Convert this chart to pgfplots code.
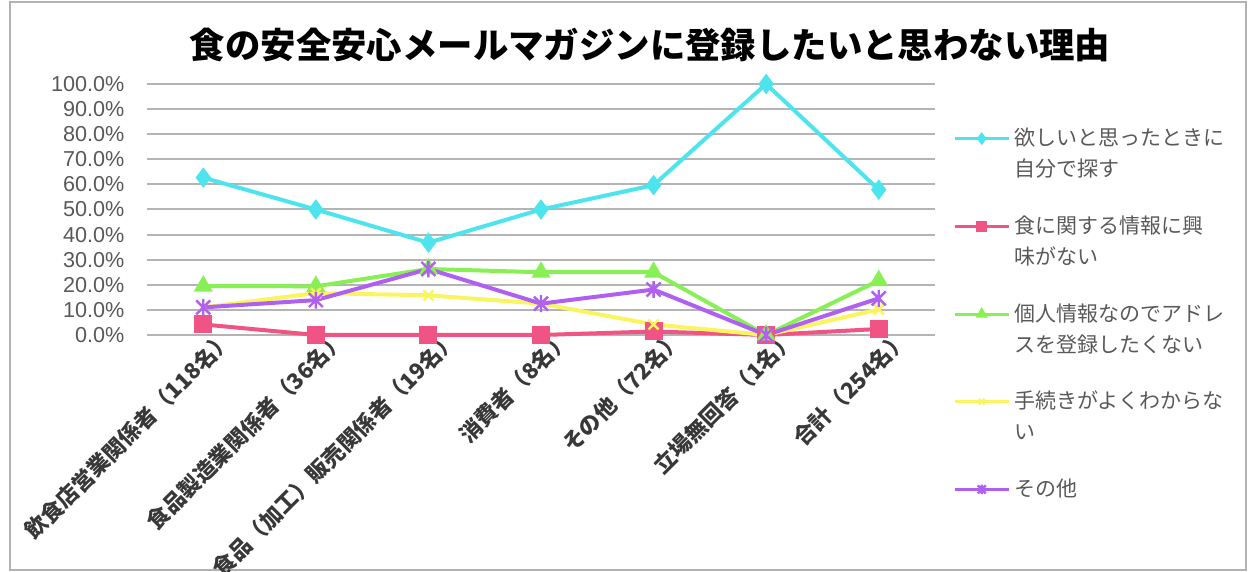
\documentclass[border=0pt]{standalone}
\usepackage{fontspec}
\setmainfont{Noto Sans CJK JP}
\newfontfamily\tickfont{Liberation Sans}
\usepackage{pgfplots}
\pgfplotsset{compat=1.18}
\definecolor{ccyan}{RGB}{78,228,238}
\definecolor{cpink}{RGB}{240,84,132}
\definecolor{cgreen}{RGB}{136,240,84}
\definecolor{cyellow}{RGB}{250,244,96}
\definecolor{cpurple}{RGB}{176,96,240}
\definecolor{txtgray}{RGB}{89,89,89}
\definecolor{gridgray}{RGB}{180,180,180}
\pgfdeclareplotmark{xstar}{%
 \pgfpathmoveto{\pgfqpoint{-\pgfplotmarksize}{-\pgfplotmarksize}}%
 \pgfpathlineto{\pgfqpoint{\pgfplotmarksize}{\pgfplotmarksize}}%
 \pgfpathmoveto{\pgfqpoint{-\pgfplotmarksize}{\pgfplotmarksize}}%
 \pgfpathlineto{\pgfqpoint{\pgfplotmarksize}{-\pgfplotmarksize}}%
 \pgfpathmoveto{\pgfqpoint{0pt}{-1.2\pgfplotmarksize}}%
 \pgfpathlineto{\pgfqpoint{0pt}{1.2\pgfplotmarksize}}%
 \pgfusepathqstroke}
\newcommand{\lent}[1]{\begin{tabular}[t]{@{}l@{}}#1\end{tabular}}
\begin{document}
\begin{tikzpicture}[x=1pt,y=1pt]
\path[use as bounding box] (0,0) rectangle (626,286);
\draw[gray!60, line width=0.6pt] (5,1) rectangle (623,285);
\node[font=\bfseries\fontsize{17.7}{20}\selectfont] at (325,263.5) {食の安全安心メールマガジンに登録したいと思わない理由};
\begin{axis}[
  at={(73.5pt,118.5pt)}, anchor=south west,
  width=394pt, height=125.5pt, scale only axis,
  xmin=-0.5, xmax=6.5, ymin=0, ymax=100,
  axis line style={draw=none},
  major tick length=0pt,
  ymajorgrids,
  major grid style={gridgray, line width=1pt},
  ytick={0,10,...,100},
  /pgf/number format/assume math mode=true,
  yticklabel={\pgfmathprintnumber[fixed,fixed zerofill,precision=1]{\tick}\%},
  yticklabel style={font=\tickfont\fontsize{10.8}{12}\selectfont, text=txtgray, xshift=-7pt},
  xtick={0,...,6},
  xticklabels={飲食店営業関係者（118名）,食品製造業関係者（36名）,食品（加工）販売関係者（19名）,消費者（8名）,その他（72名）,立場無回答（1名）,合計（254名）},
  xticklabel style={rotate=45, anchor=east, font=\bfseries\fontsize{11}{12}\selectfont, text=black!78, xshift=13pt, yshift=-9pt},
  clip=false,
  line width=2pt,
  mark size=3.5pt,
  legend style={at={(1.013,0.88)}, anchor=north west, draw=none, fill=none,
    font=\fontsize{10.5}{15.5}\selectfont, text=txtgray, row sep=27.5pt,
    cells={anchor=base west}},
  legend image code/.code={\draw[mark repeat=2,mark phase=2,mark size=2pt,line width=1.5pt,#1] plot coordinates {(0pt,3.6pt) (13.5pt,3.6pt) (27pt,3.6pt)};},
]
\addplot[ccyan, mark=diamond*, mark options={solid}] coordinates {(0,62.7) (1,50.0) (2,36.8) (3,50.0) (4,59.7) (5,100) (6,57.9)};
\addlegendentry{\lent{欲しいと思ったときに\\自分で探す}}
\addplot[cpink, mark=square*] coordinates {(0,4.2) (1,0) (2,0) (3,0) (4,1.4) (5,0) (6,2.4)};
\addlegendentry{\lent{食に関する情報に興\\味がない}}
\addplot[cgreen, mark=triangle*] coordinates {(0,19.5) (1,19.4) (2,26.3) (3,25.0) (4,25.0) (5,0) (6,21.7)};
\addlegendentry{\lent{個人情報なのでアドレ\\スを登録したくない}}
\addplot[cyellow, mark=x, mark options={line width=1.2pt}] coordinates {(0,11.0) (1,16.7) (2,15.8) (3,12.5) (4,4.2) (5,0) (6,10.2)};
\addlegendentry{\lent{手続きがよくわからな\\い}}
\addplot[cpurple, mark=xstar, mark options={line width=1.2pt}] coordinates {(0,11.0) (1,13.9) (2,26.3) (3,12.5) (4,18.1) (5,0) (6,14.6)};
\addlegendentry{\lent{その他}}
\end{axis}
\end{tikzpicture}
\end{document}
